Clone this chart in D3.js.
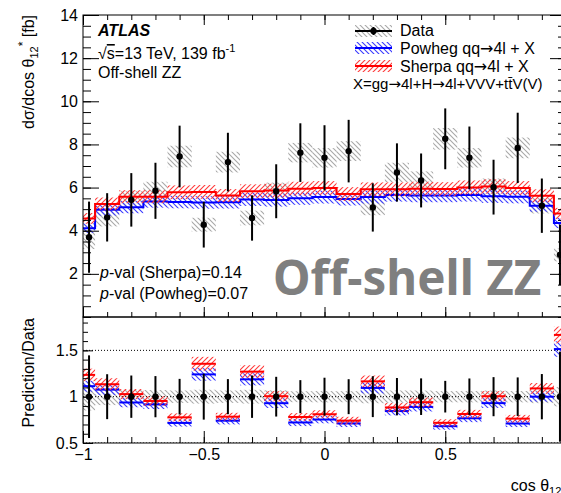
<!DOCTYPE html>
<html>

<head>
    <meta charset="UTF-8" />
    <title>cos theta12 off-shell ZZ</title>
    <style>
        body {
            margin: 0;
            padding: 0;
            background-color: #fff;
        }

        svg {
            display: block;
            font-family: 'Liberation Sans', Arial, sans-serif;
        }
    </style>
</head>

<body>
    <div class="container"></div>

    <script src="https://cdnjs.cloudflare.com/ajax/libs/d3/7.8.5/d3.min.js"></script>
    <script>
        // bins in cos theta12*, first and last are half width
        const binEdges = [-1, -0.95, -0.85, -0.75, -0.65, -0.55, -0.45, -0.35, -0.25, -0.15, -0.05,
            0.05, 0.15, 0.25, 0.35, 0.45, 0.55, 0.65, 0.75, 0.85, 0.95, 1]
        const binCenters = [-0.975, -0.9, -0.8, -0.7, -0.6, -0.5, -0.4, -0.3, -0.2, -0.1, 0,
            0.1, 0.2, 0.3, 0.4, 0.5, 0.6, 0.7, 0.8, 0.9, 0.975]

        // measured cross section [fb]
        const dataVal = [3.70, 4.62, 5.43, 5.85, 7.44, 4.28, 7.18, 4.59, 5.83, 7.62, 7.38,
            7.69, 5.08, 6.70, 6.33, 8.26, 7.38, 6.02, 7.84, 5.16, 2.88]
        const dataStat = [1.65, 1.12, 1.24, 1.30, 1.43, 1.06, 1.36, 1.05, 1.25, 1.36, 1.51,
            1.45, 1.12, 1.35, 1.25, 1.41, 1.45, 1.27, 1.63, 1.26, 1.40]
        const dataSys = [0.55, 0.42, 0.40, 0.42, 0.50, 0.32, 0.48, 0.34, 0.40, 0.45, 0.45,
            0.46, 0.36, 0.45, 0.42, 0.50, 0.45, 0.40, 0.48, 0.36, 0.30]

        // predictions [fb]
        const sherpaVal = [4.57, 5.24, 5.58, 5.58, 5.78, 5.80, 5.63, 5.83, 5.86, 5.95, 5.98,
            5.70, 5.92, 5.92, 5.95, 5.93, 6.00, 6.05, 5.98, 5.62, 4.80]
        const powhegVal = [4.12, 4.97, 5.09, 5.36, 5.33, 5.31, 5.32, 5.45, 5.42, 5.50, 5.56,
            5.47, 5.56, 5.66, 5.63, 5.63, 5.66, 5.60, 5.57, 5.16, 4.36]
        const sherpaUnc = [0.25, 0.30, 0.30, 0.30, 0.32, 0.32, 0.30, 0.32, 0.32, 0.32, 0.32,
            0.32, 0.32, 0.32, 0.32, 0.32, 0.33, 0.33, 0.32, 0.30, 0.26]
        const powhegUnc = [0.22, 0.27, 0.28, 0.29, 0.29, 0.29, 0.29, 0.30, 0.30, 0.30, 0.30,
            0.30, 0.30, 0.31, 0.31, 0.31, 0.31, 0.31, 0.30, 0.28, 0.24]

        const mainTicks = [2, 4, 6, 8, 10, 12, 14]
        const ratioTicks = [0.5, 1, 1.5]
        const xTicks = [-1, -0.5, 0, 0.5, 1]
        const xTickLabels = ['\u22121', '\u22120.5', '0', '0.5', '']

        const drawChart = () => {
            const width = 561
            const height = 493
            const left = 83, right = 566
            const mainTop = 15, mainBottom = 317, ratioBottom = 443

            const x = d3.scaleLinear().domain([-1, 1]).range([left, right])
            const y = d3.scaleLinear().domain([0, 14]).range([mainBottom, mainTop])
            const yr = d3.scaleLinear().domain([0.5, 1.86]).range([ratioBottom, mainBottom])

            const svg = d3.select('.container').append('svg')
                .attr('width', width)
                .attr('height', height)

            svg.append('rect').attr('width', width).attr('height', height).attr('fill', '#fff')

            const defs = svg.append('defs')
            const hatch = (id, color, dir, gap, sw) => {
                const p = defs.append('pattern').attr('id', id)
                    .attr('patternUnits', 'userSpaceOnUse')
                    .attr('width', gap).attr('height', gap)
                const g = gap
                const d = dir === '/'
                    ? `M0,${g} L${g},0 M${-1},1 L1,${-1} M${g - 1},${g + 1} L${g + 1},${g - 1}`
                    : `M0,0 L${g},${g} M${-1},${g - 1} L1,${g + 1} M${g - 1},${-1} L${g + 1},1`
                p.append('path').attr('d', d).attr('stroke', color).attr('stroke-width', sw)
            }
            hatch('hRed', '#ff3a3a', '/', 5, 1.1)
            hatch('hBlue', '#3a3aff', '\\', 5, 1.1)
            hatch('hGray', '#a8a8a8', '\\', 5, 1.1)

            defs.append('clipPath').attr('id', 'clipMain').append('rect')
                .attr('x', left).attr('y', mainTop).attr('width', right - left).attr('height', mainBottom - mainTop)
            defs.append('clipPath').attr('id', 'clipRatio').append('rect')
                .attr('x', left).attr('y', mainBottom).attr('width', right - left).attr('height', ratioBottom - mainBottom)

            const bins = dataVal.map((v, i) => ({
                x0: binEdges[i], x1: binEdges[i + 1], xc: binCenters[i],
                data: v, stat: dataStat[i], sys: dataSys[i],
                sherpa: sherpaVal[i], powheg: powhegVal[i],
                sherpaUnc: sherpaUnc[i], powhegUnc: powhegUnc[i]
            }))

            const stepLine = (scale, key) => {
                const pts = bins.map(b => [x(b.x0), scale(key(b))])
                pts.push([x(1), scale(key(bins[bins.length - 1]))])
                return d3.line().curve(d3.curveStepAfter)(pts)
            }

            // ---------- main panel ----------
            const main = svg.append('g').attr('clip-path', 'url(#clipMain)')

            main.selectAll('.sysbox').data(bins).join('rect')
                .attr('x', d => x(d.x0)).attr('width', d => x(d.x1) - x(d.x0))
                .attr('y', d => y(d.data + d.sys)).attr('height', d => y(d.data - d.sys) - y(d.data + d.sys))
                .attr('fill', 'url(#hGray)')

            const preds = [
                { key: 'powheg', unc: 'powhegUnc', fill: 'url(#hBlue)', color: '#0000ff' },
                { key: 'sherpa', unc: 'sherpaUnc', fill: 'url(#hRed)', color: '#ff0000' }
            ]
            for (const p of preds) {
                main.append('g').selectAll('rect').data(bins).join('rect')
                    .attr('x', d => x(d.x0)).attr('width', d => x(d.x1) - x(d.x0))
                    .attr('y', d => y(d[p.key] + d[p.unc]))
                    .attr('height', d => y(d[p.key] - d[p.unc]) - y(d[p.key] + d[p.unc]))
                    .attr('fill', p.fill)
                main.append('path').attr('d', stepLine(y, d => d[p.key]))
                    .attr('fill', 'none').attr('stroke', p.color).attr('stroke-width', 2)
            }

            main.selectAll('.err').data(bins).join('line')
                .attr('x1', d => x(d.xc)).attr('x2', d => x(d.xc))
                .attr('y1', d => y(d.data + d.stat)).attr('y2', d => y(d.data - d.stat))
                .attr('stroke', '#000').attr('stroke-width', 2)
            main.selectAll('.pt').data(bins).join('circle')
                .attr('cx', d => x(d.xc)).attr('cy', d => y(d.data)).attr('r', 3.2)
                .attr('fill', '#000')

            // ---------- ratio panel ----------
            const ratio = svg.append('g').attr('clip-path', 'url(#clipRatio)')

            ratio.selectAll('.rsys').data(bins).join('rect')
                .attr('x', d => x(d.x0)).attr('width', d => x(d.x1) - x(d.x0))
                .attr('y', d => yr(1 + d.sys / d.data)).attr('height', d => yr(1 - d.sys / d.data) - yr(1 + d.sys / d.data))
                .attr('fill', 'url(#hGray)')

            ratio.selectAll('.dotted').data(ratioTicks).join('line')
                .attr('x1', left).attr('x2', right)
                .attr('y1', d => yr(d)).attr('y2', d => yr(d))
                .attr('stroke', '#000').attr('stroke-width', 1).attr('stroke-dasharray', '1,2')

            for (const p of preds) {
                const g = ratio.append('g')
                g.selectAll('rect').data(bins).join('rect')
                    .attr('x', d => x(d.x0)).attr('width', d => x(d.x1) - x(d.x0))
                    .attr('y', d => yr((d[p.key] + d[p.unc]) / d.data))
                    .attr('height', d => yr((d[p.key] - d[p.unc]) / d.data) - yr((d[p.key] + d[p.unc]) / d.data))
                    .attr('fill', p.fill)
                g.selectAll('line').data(bins).join('line')
                    .attr('x1', d => x(d.x0)).attr('x2', d => x(d.x1))
                    .attr('y1', d => yr(d[p.key] / d.data)).attr('y2', d => yr(d[p.key] / d.data))
                    .attr('stroke', p.color).attr('stroke-width', 2)
            }

            ratio.selectAll('.rerr').data(bins).join('line')
                .attr('x1', d => x(d.xc)).attr('x2', d => x(d.xc))
                .attr('y1', d => yr(1 + d.stat / d.data)).attr('y2', d => yr(1 - d.stat / d.data))
                .attr('stroke', '#000').attr('stroke-width', 2)
            ratio.selectAll('.rpt').data(bins).join('circle')
                .attr('cx', d => x(d.xc)).attr('cy', yr(1)).attr('r', 3.2)
                .attr('fill', '#000')

            // ---------- frames and axes ----------
            const frame = (y0, y1) => svg.append('rect')
                .attr('x', left).attr('y', y0).attr('width', right - left).attr('height', y1 - y0)
                .attr('fill', 'none').attr('stroke', '#000').attr('stroke-width', 1)
            frame(mainTop, mainBottom)
            frame(mainBottom, ratioBottom)

            const axisStyle = g => {
                g.select('.domain').remove()
                g.selectAll('line').attr('stroke', '#000')
                g.selectAll('text').attr('font-size', 16).attr('fill', '#000')
                    .attr('font-family', "'Liberation Sans', Arial, sans-serif")
            }

            // main y axis (left + right), ticks point inward
            svg.append('g').attr('transform', `translate(${left},0)`)
                .call(d3.axisLeft(y).tickValues(d3.range(0, 14.01, 0.5)).tickSize(-8).tickFormat(''))
                .call(axisStyle)
            svg.append('g').attr('transform', `translate(${left},0)`)
                .call(d3.axisLeft(y).tickValues(mainTicks).tickSizeInner(-16).tickSizeOuter(0).tickPadding(5))
                .call(axisStyle)
            svg.append('g').attr('transform', `translate(${right},0)`)
                .call(d3.axisRight(y).tickValues(d3.range(0, 14.01, 0.5)).tickSize(-8).tickFormat(''))
                .call(axisStyle)
            svg.append('g').attr('transform', `translate(${right},0)`)
                .call(d3.axisRight(y).tickValues(mainTicks).tickSize(-16).tickFormat(''))
                .call(axisStyle)

            // ratio y axis
            svg.append('g').attr('transform', `translate(${left},0)`)
                .call(d3.axisLeft(yr).tickValues(d3.range(0.5, 1.86, 0.1)).tickSize(-5).tickFormat(''))
                .call(axisStyle)
            svg.append('g').attr('transform', `translate(${left},0)`)
                .call(d3.axisLeft(yr).tickValues(ratioTicks).tickSizeInner(-10).tickSizeOuter(0)
                    .tickPadding(5).tickFormat(d3.format('')))
                .call(axisStyle)

            // x axes: top and bottom of both panels
            const xMinor = d3.range(-1, 1.001, 0.1)
            const xAxes = [
                { yPos: mainTop, axis: d3.axisTop, major: 10, minor: 5 },
                { yPos: mainBottom, axis: d3.axisBottom, major: 10, minor: 5 },
                { yPos: ratioBottom, axis: d3.axisBottom, major: 12, minor: 6 }
            ]
            for (const a of xAxes) {
                svg.append('g').attr('transform', `translate(0,${a.yPos})`)
                    .call(a.axis(x).tickValues(xMinor).tickSize(-a.minor).tickFormat(''))
                    .call(axisStyle)
                svg.append('g').attr('transform', `translate(0,${a.yPos})`)
                    .call(a.axis(x).tickValues(xTicks).tickSize(-a.major).tickFormat(''))
                    .call(axisStyle)
            }
            svg.append('g').attr('transform', `translate(0,${ratioBottom})`)
                .call(d3.axisBottom(x).tickValues(xTicks.slice(0, 4)).tickSize(0).tickPadding(6)
                    .tickFormat((d, i) => xTickLabels[i]))
                .call(axisStyle)

            // ---------- titles ----------
            const yTitle = svg.append('text')
                .attr('transform', `translate(34,15) rotate(-90)`)
                .attr('text-anchor', 'end').attr('font-size', 16)
            yTitle.append('tspan').text('d\u03c3/dcos \u03b8')
            yTitle.append('tspan').attr('font-size', 11).attr('dy', 4).text('12')
            yTitle.append('tspan').attr('font-size', 12).attr('dy', -11).text('*')
            yTitle.append('tspan').attr('dy', 7).text(' [fb]')

            svg.append('text')
                .attr('transform', `translate(34,318) rotate(-90)`)
                .attr('text-anchor', 'end').attr('font-size', 16)
                .text('Prediction/Data')

            const xTitle = svg.append('text')
                .attr('x', right).attr('y', 491)
                .attr('text-anchor', 'end').attr('font-size', 16)
            xTitle.append('tspan').text('cos \u03b8')
            xTitle.append('tspan').attr('font-size', 11).attr('dy', 4).text('12')
            xTitle.append('tspan').attr('font-size', 12).attr('dy', -11).text('*')

            // ---------- labels ----------
            svg.append('text').attr('x', 98).attr('y', 36)
                .attr('font-size', 16).attr('font-weight', 'bold').attr('font-style', 'italic')
                .text('ATLAS')
            const ecm = svg.append('text').attr('x', 98).attr('y', 59).attr('font-size', 16)
            ecm.append('tspan').text('\u221a')
            ecm.append('tspan').attr('text-decoration', 'overline').text('s')
            ecm.append('tspan').text('=13 TeV, 139 fb')
            ecm.append('tspan').attr('font-size', 11).attr('dy', -7).text('-1')
            svg.append('text').attr('x', 98).attr('y', 78).attr('font-size', 16)
                .text('Off-shell ZZ')

            const pval = (yPos, name, val) => {
                const t = svg.append('text').attr('x', 100).attr('y', yPos).attr('font-size', 16)
                t.append('tspan').attr('font-style', 'italic').text('p')
                t.append('tspan').text(`-val (${name})=${val}`)
            }
            pval(278, 'Sherpa', '0.14')
            pval(299, 'Powheg', '0.07')

            svg.append('text').attr('x', 273).attr('y', 295)
                .attr('font-family', "'Noto Sans', sans-serif").attr('font-weight', 'bold')
                .attr('font-size', 47.5).attr('fill', '#7f7f7f')
                .text('Off-shell ZZ')

            // arrows drawn with DejaVu so they get a proper length
            const arrowText = (sel, str) => {
                str.split('\u2192').forEach((part, i) => {
                    if (i > 0) sel.append('tspan').attr('font-family', "'DejaVu Sans', sans-serif").text('\u2192')
                    sel.append('tspan').text(part)
                })
            }

            // ---------- legend ----------
            const lx = 355, lw = 37
            const leg = svg.append('g')
            leg.append('rect').attr('x', lx).attr('y', 25).attr('width', lw).attr('height', 12).attr('fill', 'url(#hGray)')
            leg.append('line').attr('x1', lx).attr('x2', lx + lw).attr('y1', 31).attr('y2', 31)
                .attr('stroke', '#000').attr('stroke-width', 2)
            leg.append('line').attr('x1', lx + lw / 2).attr('x2', lx + lw / 2).attr('y1', 27).attr('y2', 35)
                .attr('stroke', '#000').attr('stroke-width', 2)
            leg.append('circle').attr('cx', lx + lw / 2).attr('cy', 31).attr('r', 3.2).attr('fill', '#000')

            const legPred = [
                { yc: 48, fill: 'url(#hBlue)', color: '#0000ff', label: 'Powheg qq\u21924l + X' },
                { yc: 66, fill: 'url(#hRed)', color: '#ff0000', label: 'Sherpa qq\u21924l + X' }
            ]
            for (const e of legPred) {
                leg.append('rect').attr('x', lx).attr('y', e.yc - 6).attr('width', lw).attr('height', 12).attr('fill', e.fill)
                leg.append('line').attr('x1', lx).attr('x2', lx + lw).attr('y1', e.yc).attr('y2', e.yc)
                    .attr('stroke', e.color).attr('stroke-width', 2)
            }
            leg.append('text').attr('x', 400).attr('y', 36).attr('font-size', 16).text('Data')
            for (const e of legPred) {
                arrowText(leg.append('text').attr('x', 400).attr('y', e.yc + 6).attr('font-size', 16), e.label)
            }
            arrowText(leg.append('text').attr('x', 353).attr('y', 89).attr('font-size', 15),
                'X=gg\u21924l+H\u21924l+VVV+tt\u0304V(V)')
        }

        drawChart()
    </script>
</body>

</html>
